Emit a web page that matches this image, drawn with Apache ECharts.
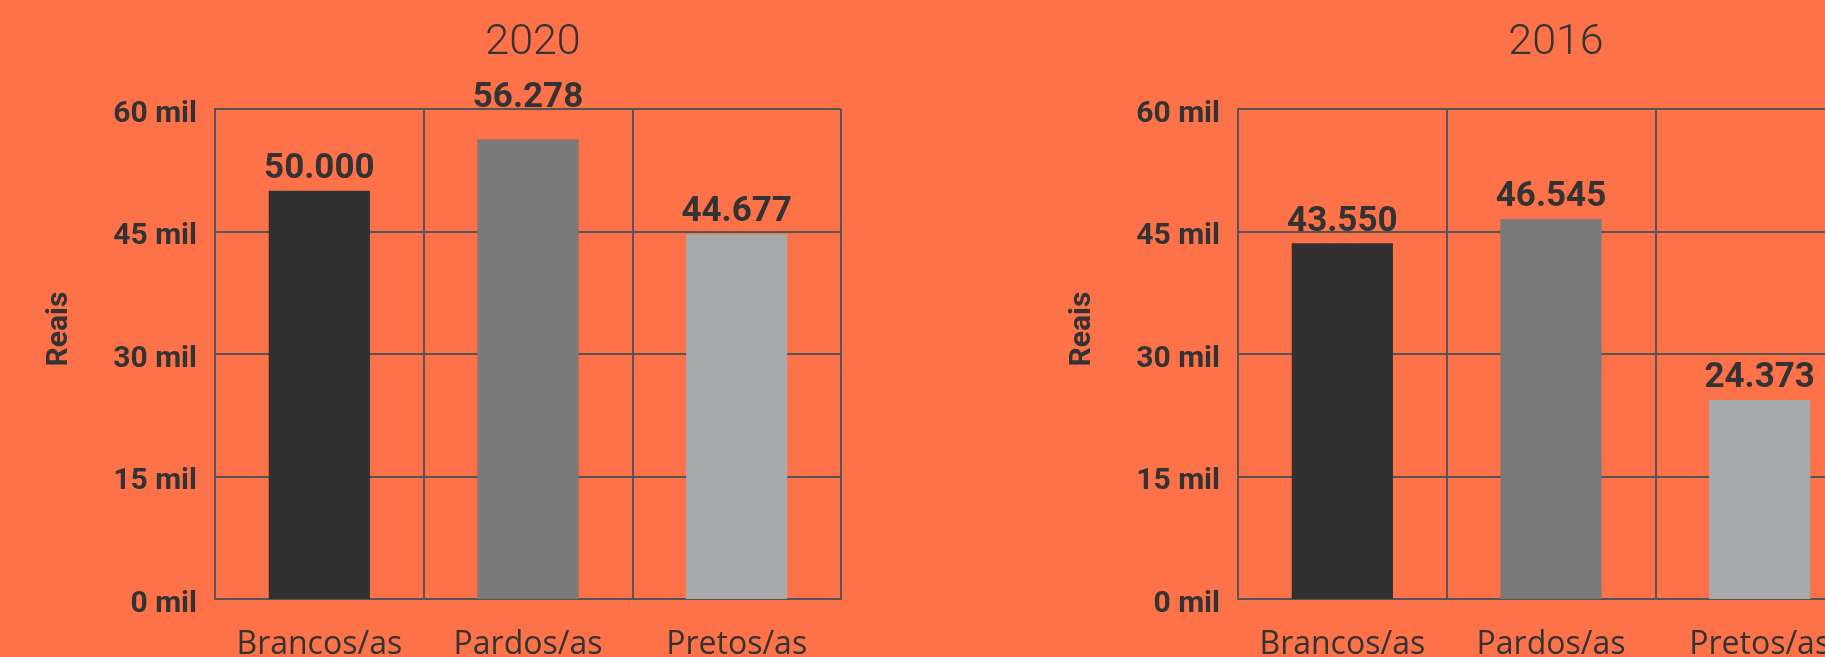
<!DOCTYPE html>
<html>
<head>
<meta charset="utf-8">
<script src="https://cdn.jsdelivr.net/npm/echarts@6/dist/echarts.min.js"></script>
<style>
html,body{margin:0;padding:0;background:#FE724A;}
#chart{width:1825px;height:657px;}
</style>
</head>
<body>
<div id="chart"></div>
<script>
const categories = ['Brancos/as', 'Pardos/as', 'Pretos/as'];
const values2020 = [50000, 56278, 44677];
const values2016 = [43550, 46545, 24373];
const titles = ['2020', '2016'];
const yTicks = [0, 15000, 30000, 45000, 60000];
const yAxisName = 'Reais';

const barColors = ['#313131', '#7a7a7a', '#a8a9ab'];
const textColor = '#333333';
const lineColor = '#555555';

const chart = echarts.init(document.getElementById('chart'));

const grids = [
  {left: 215, width: 626, top: 109, bottom: 58},
  {left: 1238, width: 626, top: 109, bottom: 58}
];
const titleCenters = [528, 1551];
const allValues = [values2020, values2016];

function fmtNum(v) {
  return String(v).replace(/\B(?=(\d{3})+(?!\d))/g, '.');
}

const option = {
  backgroundColor: '#FE724A',
  animation: false,
  title: titles.map((t, i) => ({
    text: t,
    left: titleCenters[i],
    textAlign: 'center',
    top: 17,
    textStyle: {fontFamily: 'Roboto', fontWeight: 300, fontSize: 43, color: textColor}
  })),
  grid: grids.map(g => Object.assign({containLabel: false, outerBoundsMode: 'none'}, g)),
  xAxis: grids.map((g, i) => ({
    type: 'category',
    gridIndex: i,
    data: categories,
    axisLine: {show: true, lineStyle: {color: lineColor, width: 2}},
    axisTick: {show: false},
    splitLine: {show: true, lineStyle: {color: lineColor, width: 2}},
    axisLabel: {
      interval: 0,
      margin: 30,
      fontFamily: 'Open Sans',
      fontSize: 32,
      color: textColor
    }
  })),
  yAxis: grids.map((g, i) => ({
    type: 'value',
    gridIndex: i,
    min: yTicks[0],
    max: yTicks[yTicks.length - 1],
    interval: yTicks[1] - yTicks[0],
    name: yAxisName,
    nameLocation: 'middle',
    nameGap: 141,
    nameTextStyle: {
      fontFamily: 'Roboto', fontWeight: 'bold', fontSize: 30, color: textColor,
      padding: [0, 0, 0, 50]
    },
    axisLine: {show: true, lineStyle: {color: lineColor, width: 2}},
    axisTick: {show: false},
    splitLine: {show: true, lineStyle: {color: lineColor, width: 2}},
    axisLabel: {
      margin: 18,
      fontFamily: 'Roboto',
      fontWeight: 'bold',
      fontSize: 30,
      color: textColor,
      verticalAlign: 'top',
      lineHeight: 10,
      formatter: v => (v / 1000) + ' mil'
    }
  })),
  series: allValues.map((vals, i) => ({
    type: 'bar',
    xAxisIndex: i,
    yAxisIndex: i,
    barWidth: '48.5%',
    data: vals.map((v, j) => {
      const item = {value: v, itemStyle: {color: barColors[j]}};
      // label pushed above the top gridline when it would overlap it
      if (v / yTicks[yTicks.length - 1] > 0.9) item.label = {distance: 24};
      return item;
    }),
    label: {
      show: true,
      position: 'top',
      distance: 4,
      fontFamily: 'Roboto',
      fontWeight: 'bold',
      fontSize: 35,
      color: textColor,
      formatter: p => fmtNum(p.value)
    }
  }))
};

chart.setOption(option);
</script>
</body>
</html>
